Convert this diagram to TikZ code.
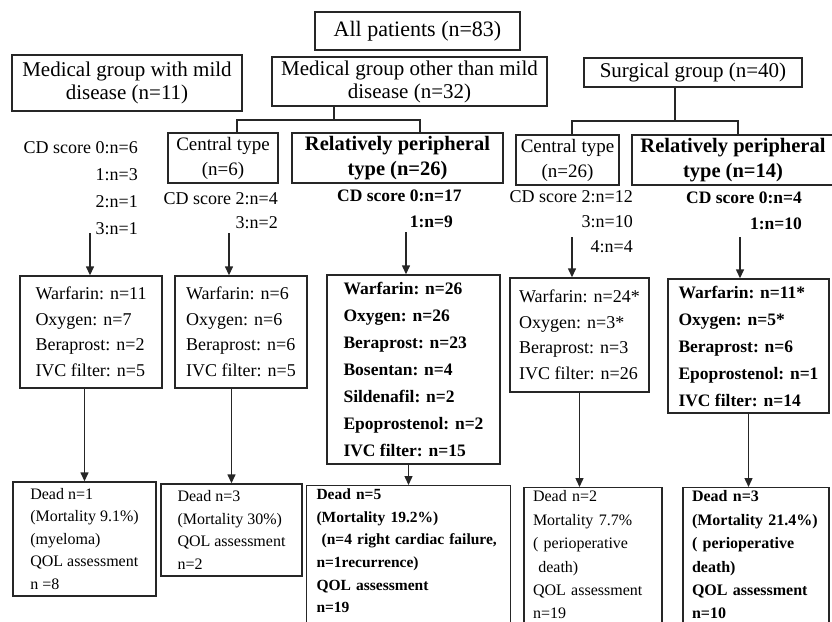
\documentclass[tikz,border=0pt]{standalone}
\usepackage{fontspec}
\setmainfont{Liberation Serif}
\usetikzlibrary{arrows.meta}

\begin{document}
\begin{tikzpicture}[x=1pt, y=-1pt, >={Triangle[length=9pt, width=8pt]},
	grp/.style={draw=black!85, line width=1.4pt, inner sep=0pt, align=center, font=\fontsize{21}{23}\selectfont},
	sub/.style={grp, font=\fontsize{19}{25}\selectfont},
	subbf/.style={grp, font=\fontsize{20.5}{25}\selectfont\bfseries},
	score/.style={inner sep=0pt, font=\fontsize{18}{27}\selectfont},
	scorebf/.style={inner sep=0pt, font=\fontsize{17.5}{26}\selectfont\bfseries},
	tbox/.style={draw=black!85, line width=1.4pt, inner sep=0pt, align=left, font=\fontsize{18}{25.5}\selectfont},
	tboxbf/.style={tbox, font=\fontsize{17.5}{27}\selectfont\bfseries},
	dbox/.style={draw=black!85, line width=1.4pt, inner sep=0pt, align=left, font=\fontsize{16}{22.5}\selectfont},
	cutbox/.style={dbox, anchor=north, inner xsep=9pt, inner ysep=3pt, text depth=150pt},
	link/.style={draw=black!85, line width=1.4pt}]
		\useasboundingbox ( 0, 0 ) rectangle ( 832, 621 );
		\clip ( 0, 0 ) rectangle ( 832, 621 );

		% all patients and groups
		\node [grp, minimum width=205pt, minimum height=38pt, font=\fontsize{22}{24}\selectfont] (allp) at ( 417.5, 31 ) {All patients (n=83)};
		\node [grp, minimum width=230pt, minimum height=56pt] (medmild) at ( 127, 83 ) {Medical group with mild\\disease (n=11)};
		\node [grp, minimum width=275pt, minimum height=49pt] (medoth) at ( 409.5, 81.5 ) {Medical group other than mild\\disease (n=32)};
		\node [grp, minimum width=218pt, minimum height=29pt] (surg) at ( 693, 72.5 ) {Surgical group (n=40)};

		% types
		\node [sub, minimum width=110pt, minimum height=50pt] (medcen) at ( 223, 158 ) {Central type\\(n=6)};
		\node [subbf, minimum width=211pt, minimum height=50pt] (medper) at ( 397.5, 158 ) {Relatively peripheral\\type (n=26)};
		\node [sub, minimum width=103pt, minimum height=50pt] (surcen) at ( 567.5, 160 ) {Central type\\(n=26)};
		\node [subbf, minimum width=202pt, minimum height=50pt] (surper) at ( 733, 160 ) {Relatively peripheral\\type (n=14)};

		\coordinate (medfork) at ( 334, 120 );
		\coordinate (surfork) at ( 675, 121 );
		\draw [link] (medoth.south -| medfork) -- (medfork);
		\draw [link] ([xshift=14pt]medcen.north) |- (medfork) -| ([xshift=22.5pt]medper.north);
		\draw [link] (surg.south -| surfork) -- (surfork);
		\draw [link] ([xshift=4.5pt]surcen.north) |- (surfork) -| ([xshift=5pt]surper.north);

		% CD scores
		\node [score, anchor=east, align=right] (cd1) at ( 138, 188 ) {CD score 0:n=6\\1:n=3\\2:n=1\\3:n=1};
		\node [score, anchor=east, align=right, font=\fontsize{18}{24}\selectfont] (cd2) at ( 278, 211 ) {CD score 2:n=4\\3:n=2};
		\node [scorebf, anchor=west, align=left] (cd3) at ( 337, 209 ) {CD score 0:n=17\\\hphantom{CD score }1:n=9};
		\node [score, anchor=east, align=right, font=\fontsize{18}{25}\selectfont] (cd4) at ( 633, 222 ) {CD score 2:n=12\\3:n=10\\4:n=4};
		\node [scorebf, anchor=east, align=right] (cd5) at ( 802, 211 ) {CD score 0:n=4\\1:n=10};

		% treatment
		\node [tbox, minimum width=142pt, minimum height=112pt] (tr1) at ( 91, 332 ) {Warfarin: n=11\\Oxygen: n=7\\Beraprost: n=2\\IVC filter: n=5};
		\node [tbox, minimum width=132pt, minimum height=112pt] (tr2) at ( 241, 332 ) {Warfarin: n=6\\Oxygen: n=6\\Beraprost: n=6\\IVC filter: n=5};
		\node [tboxbf, minimum width=173pt, minimum height=189pt] (tr3) at ( 413.5, 369.5 ) {Warfarin: n=26\\Oxygen: n=26\\Beraprost: n=23\\Bosentan: n=4\\Sildenafil: n=2\\Epoprostenol: n=2\\IVC filter: n=15};
		\node [tbox, minimum width=139pt, minimum height=114pt] (tr4) at ( 579.5, 335 ) {Warfarin: n=24*\\Oxygen: n=3*\\Beraprost: n=3\\IVC filter: n=26};
		\node [tboxbf, minimum width=161pt, minimum height=134pt] (tr5) at ( 748.5, 346 ) {Warfarin: n=11*\\Oxygen: n=5*\\Beraprost: n=6\\Epoprostenol: n=1\\IVC filter: n=14};

		\coordinate (cd1end) at ( 90, 233 );
		\coordinate (cd2end) at ( 229, 233 );
		\coordinate (cd3end) at ( 406, 232 );
		\coordinate (cd4end) at ( 572, 237 );
		\coordinate (cd5end) at ( 740, 237 );
		\draw [link, ->] (cd1end) -- (cd1end |- tr1.north);
		\draw [link, ->] (cd2end) -- (cd2end |- tr2.north);
		\draw [link, ->] (cd3end) -- (cd3end |- tr3.north);
		\draw [link, ->] (cd4end) -- (cd4end |- tr4.north);
		\draw [link, ->] (cd5end) -- (cd5end |- tr5.north);

		% outcome
		\node [dbox, minimum width=143pt, minimum height=114pt] (d1) at ( 84.5, 539 ) {Dead n=1\\(Mortality 9.1\%)\\(myeloma)\\QOL assessment\\n =8};
		\node [dbox, minimum width=141pt, minimum height=92pt] (d2) at ( 231.5, 530 ) {Dead n=3\\(Mortality 30\%)\\QOL assessment\\n=2};
		\node [cutbox, inner xsep=10pt, text width=184pt, font=\fontsize{15.5}{22.7}\selectfont\bfseries] (d3) at ( 408.5, 485 ) {Dead n=5\\(Mortality 19.2\%)\\\ (n=4 right cardiac failure,\\n=1recurrence)\\QOL assessment\\n=19};
		\node [cutbox, text width=120pt, font=\fontsize{16}{23.4}\selectfont] (d4) at ( 593, 487 ) {Dead n=2\\Mortality 7.7\%\\( perioperative\\\ death)\\QOL assessment\\n=19};
		\node [cutbox, text width=128pt, font=\fontsize{16}{23.4}\selectfont\bfseries] (d5) at ( 756, 487 ) {Dead n=3\\(Mortality 21.4\%)\\( perioperative\\death)\\QOL assessment\\n=10};

		\draw [link, ->] (d1.north |- tr1.south) -- (d1.north);
		\draw [link, ->] (d2.north |- tr2.south) -- (d2.north);
		\draw [link, ->] (d3.north |- tr3.south) -- (d3.north);
		\draw [link, ->] (tr4.south) -- (tr4.south |- d4.north);
		\draw [link, ->] (tr5.south) -- (tr5.south |- d5.north);
	\end{tikzpicture}
\end{document}
